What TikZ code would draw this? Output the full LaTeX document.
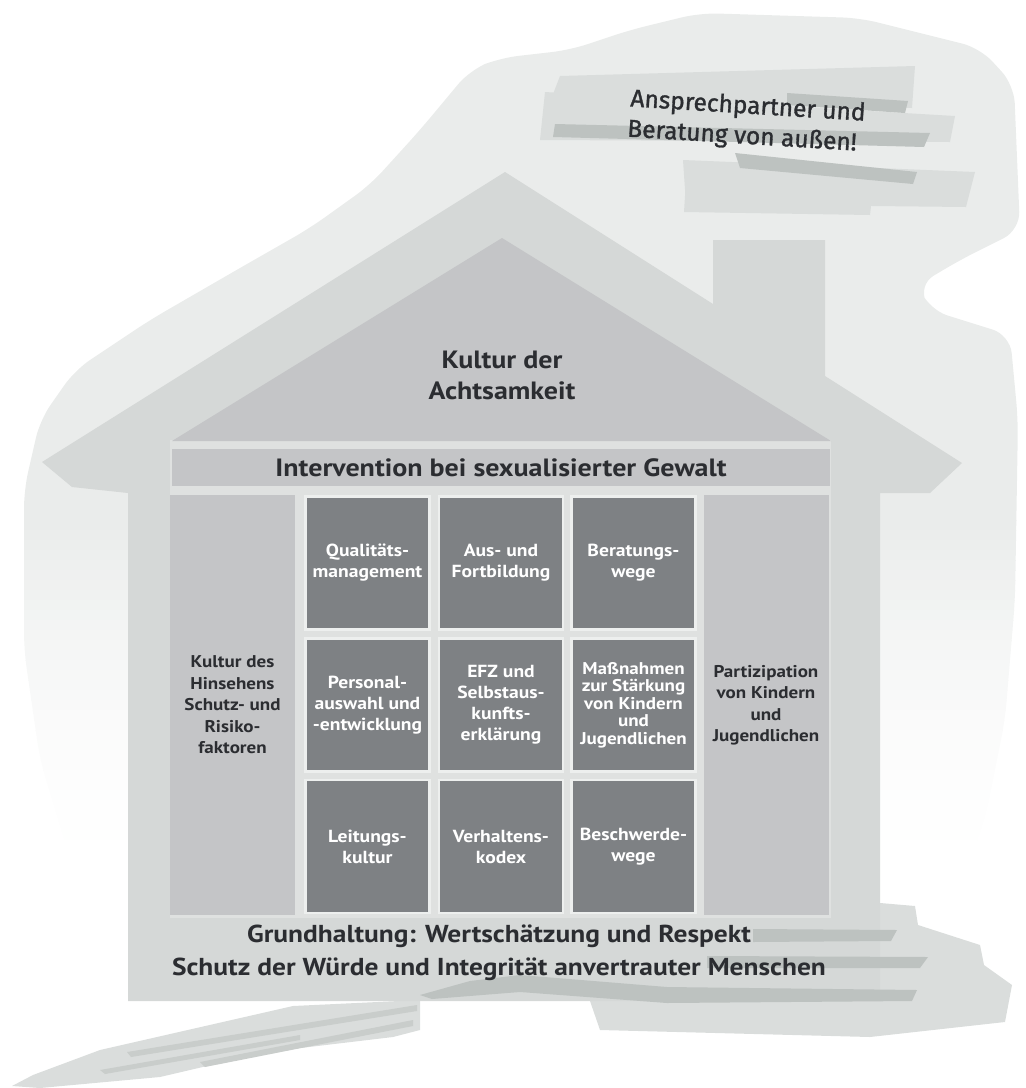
\documentclass[tikz,border=0pt]{standalone}
\usepackage{fontspec}
\newfontfamily\dinf[FakeStretch=1.12]{PT Sans}
\newfontfamily\myr[FakeBold=1.3]{Fira Sans}
\definecolor{cloudc}{HTML}{EAECEB}
\definecolor{housec}{HTML}{D5D8D7}
\definecolor{panelc}{HTML}{DFE1E0}
\definecolor{midc}{HTML}{C4C5C7}
\definecolor{boxc}{HTML}{7E8184}
\definecolor{boxline}{HTML}{EDEFEE}
\definecolor{textdark}{HTML}{2B2D31}
\definecolor{strokeL}{HTML}{DADDDC}
\definecolor{strokeD}{HTML}{BDC2C0}
\tikzset{
  darkbox/.style={fill=boxc, draw=boxline, line width=2.5pt, minimum width=124pt, minimum height=133pt,
    inner sep=0pt, align=center, text=white, font=\dinf\bfseries\fontsize{17.5}{21}\selectfont},
  colbox/.style={fill=midc, minimum width=125pt, minimum height=420pt, inner sep=0pt, align=center,
    text=textdark, font=\dinf\bfseries\fontsize{17}{21.5}\selectfont},
  bigtext/.style={align=center, text=textdark, inner sep=0pt, font=\dinf\bfseries\fontsize{25}{31}\selectfont},
  cloudtext/.style={text=textdark, inner sep=0pt, rotate=-3.5, font=\myr\fontsize{24.5}{30}\selectfont},
  lightstroke/.style={fill=strokeL},
  darkstroke/.style={fill=strokeD}
}
\begin{document}
\begin{tikzpicture}[x=1pt,y=-1pt]
\useasboundingbox (0,0) rectangle (1026,1088);
% cloud, fading to white towards the bottom
\begin{scope}
\clip[rounded corners=18pt] (470,70) -- (500,58) -- (570,50) -- (630,30) -- (700,13) -- (860,18) -- (980,48) -- (1014,85) -- (1020,230) -- (960,260) -- (918,285) -- (930,310) -- (1010,335) -- (1018,420) -- (1015,600) -- (1005,720) -- (985,820) -- (955,900) -- (880,905) -- (200,900) -- (70,860) -- (40,760) -- (24,650) -- (24,490) -- (40,420) -- (75,370) -- (150,320) -- (240,268) -- (310,228) -- (370,185) -- (420,130) -- cycle;
\fill[cloudc] (0,0) rectangle (1026,521);
\foreach \i in {0,...,38} {
  \pgfmathtruncatemacro\p{100*(max(0,1-\i/34))^1.6}
  \fill[cloudc!\p!white] (0,{520+\i*10}) rectangle (1026,{531+\i*10});
}
\end{scope}
% strokes around the cloud text
\fill[lightstroke] (560,76) -- (915,66) -- (912,108) -- (550,102) -- cycle;
\fill[lightstroke] (545,92) -- (955,116) -- (950,142) -- (540,140) -- cycle;
\fill[lightstroke] (683,160) -- (975,172) -- (966,207) -- (686,204) -- cycle;
\fill[lightstroke] (686,180) -- (873,188) -- (870,215) -- (684,212) -- cycle;
\fill[darkstroke] (787,93) -- (908,101) -- (905,113) -- (787,105) -- cycle;
\fill[darkstroke] (555,124) -- (930,133) -- (924,147) -- (553,137) -- cycle;
\fill[darkstroke] (735,153) -- (917,172) -- (913,184) -- (740,168) -- cycle;
% bottom light strokes (behind the house)
\fill[lightstroke] (12,1086) -- (33,1075) -- (100,1050) -- (293,1006) -- (420,1000) -- (420,1030) -- (393,1037) -- (267,1052) -- (160,1077) -- (40,1088) -- cycle;
\fill[lightstroke] (880,903) -- (915,906) -- (918,925) -- (980,945) -- (984,965) -- (1012,985) -- (1005,1022) -- (870,1037) -- (600,1030) -- (590,1001) -- (880,1001) -- cycle;
\fill[strokeD!60!strokeL] (127,1052) -- (417,1005) -- (417,1011) -- (131,1057) -- cycle;
\fill[strokeD!60!strokeL] (200,1062) -- (413,1020) -- (413,1026) -- (205,1067) -- cycle;
\fill[strokeD!60!strokeL] (100,1070) -- (300,1035) -- (300,1040) -- (105,1074) -- cycle;
% house silhouette with chimney
\fill[housec] (42,462) -- (505,172) -- (713,304) -- (713,240) -- (825,240) -- (825,376) -- (962,463) -- (930,493) -- (880,493) -- (880,1001) -- (128,1001) -- (128,493) -- (72,487) -- cycle;
% lighter inner panel
\fill[panelc] (170,440) rectangle (831,918);
% roof triangle
\fill[midc] (502,238) -- (831,441) -- (172,441) -- cycle;
\node[bigtext] (roof) at (502,375) {Kultur der\\Achtsamkeit};
% intervention bar
\node[fill=midc, minimum width=658pt, minimum height=37pt, inner sep=0pt, text=textdark,
  font=\dinf\bfseries\fontsize{25}{28}\selectfont] (bar) at (501,467.5) {Intervention bei sexualisierter Gewalt};
% side columns
\node[colbox] (lcol) at (232.5,705) {Kultur des\\Hinsehens\\Schutz- und\\Risiko-\\faktoren};
\node[colbox] (rcol) at (766,705) {Partizipation\\von Kindern\\und\\Jugendlichen};
% grid
\node[darkbox] (b11) at (367.5,563) {Qualitäts-\\management};
\node[darkbox] (b12) at (501,563) {Aus- und\\Fortbildung};
\node[darkbox] (b13) at (633.5,563) {Beratungs-\\wege};
\node[darkbox] (b21) at (367.5,705) {Personal-\\auswahl und\\-entwicklung};
\node[darkbox] (b22) at (501,705) {EFZ und\\Selbstaus-\\kunfts-\\erklärung};
\node[darkbox, font=\dinf\bfseries\fontsize{17}{17.6}\selectfont] (b23) at (633.5,705) {Maßnahmen\\zur Stärkung\\von Kindern\\und\\Jugendlichen};
\node[darkbox] (b31) at (367.5,846.5) {Leitungs-\\kultur};
\node[darkbox] (b32) at (501,846.5) {Verhaltens-\\kodex};
\node[darkbox] (b33) at (633.5,846.5) {Beschwerde-\\wege};
% bottom dark strokes over the base
\fill[darkstroke] (753,929) -- (897,930) -- (891,941) -- (753,942) -- cycle;
\fill[darkstroke] (707,956) -- (928,957) -- (920,968) -- (707,968) -- cycle;
\fill[darkstroke] (420,995) -- (470,981) -- (520,975) -- (667,987) -- (917,990) -- (912,1001) -- (667,1003) -- (520,992) -- (432,999) -- cycle;
% base text
\node[bigtext, font=\dinf\bfseries\fontsize{24.5}{33}\selectfont] (base) at (499,953) {Grundhaltung: Wertschätzung und Respekt\\Schutz der Würde und Integrität anvertrauter Menschen};
% cloud text
\node[cloudtext] (out1) at (748,107) {Ansprechpartner und};
\node[cloudtext] (out2) at (742,137) {Beratung von außen!};
\end{tikzpicture}
\end{document}
